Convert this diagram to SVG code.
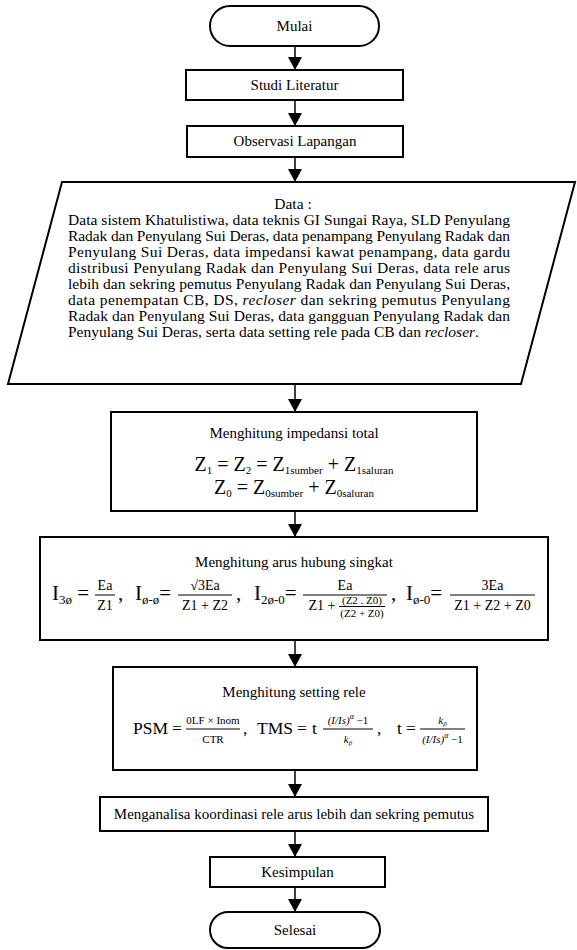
<svg xmlns="http://www.w3.org/2000/svg" width="577" height="950" viewBox="0 0 577 950">
<style>
.box{fill:#fff;stroke:#000;stroke-width:2}
.t{font-family:"Liberation Serif","Times New Roman",serif;font-size:15px;fill:#000}
.d{font-family:"Liberation Serif","Times New Roman",serif;font-size:15.5px;fill:#000}
.c{text-anchor:middle}
.big{font-family:"Liberation Serif","Times New Roman",serif;font-size:20px;fill:#000}
.i2{font-family:"Liberation Serif","Times New Roman",serif;font-size:21px;fill:#000}
.i3{font-family:"Liberation Serif","Times New Roman",serif;font-size:17.5px;fill:#000}
.fr{font-family:"Liberation Serif","Times New Roman",serif;font-size:14px;fill:#000;text-anchor:middle}
.f3{font-family:"Liberation Serif","Times New Roman",serif;font-size:11px;fill:#000;text-anchor:middle}
.sm{font-family:"Liberation Serif","Times New Roman",serif;font-size:11px;fill:#000;text-anchor:middle}
.bar{stroke:#000;stroke-width:1}
.con{stroke:#000;stroke-width:1.5;fill:none}
</style>
<defs>
<marker id="ah" markerWidth="13" markerHeight="14" refX="13" refY="7" orient="auto" markerUnits="userSpaceOnUse"><path d="M0,0 L13,7 L0,14 z" fill="#000"/></marker>
</defs>
<g id="connectors">
<line class="con" x1="295" y1="46" x2="295" y2="70" marker-end="url(#ah)"/>
<line class="con" x1="295" y1="100" x2="295" y2="126" marker-end="url(#ah)"/>
<line class="con" x1="295" y1="157" x2="295" y2="182" marker-end="url(#ah)"/>
<line class="con" x1="295" y1="384" x2="295" y2="412" marker-end="url(#ah)"/>
<line class="con" x1="295" y1="511" x2="295" y2="537" marker-end="url(#ah)"/>
<line class="con" x1="295" y1="640" x2="295" y2="667" marker-end="url(#ah)"/>
<line class="con" x1="295" y1="770" x2="295" y2="797" marker-end="url(#ah)"/>
<line class="con" x1="295" y1="831" x2="295" y2="857" marker-end="url(#ah)"/>
<line class="con" x1="295" y1="887" x2="295" y2="912" marker-end="url(#ah)"/>
</g>
<g id="mulai">
<rect class="box" x="210" y="6" width="169" height="40" rx="20"/>
<text class="t c" x="294.5" y="31">Mulai</text>
</g>
<g id="studi">
<rect class="box" x="186" y="70" width="217" height="30"/>
<text class="t c" x="294.5" y="90">Studi Literatur</text>
</g>
<g id="observasi">
<rect class="box" x="187" y="126" width="216" height="31"/>
<text class="t c" x="295" y="146">Observasi Lapangan</text>
</g>
<g id="data">
<polygon class="box" points="62,182 575,182 521,384 8,384"/>
<text class="d c" x="293" y="209">Data :</text>
<text class="d" x="68" y="225" textLength="442" lengthAdjust="spacing">Data sistem Khatulistiwa, data teknis GI Sungai Raya, SLD Penyulang</text>
<text class="d" x="68" y="241" textLength="442" lengthAdjust="spacing">Radak dan Penyulang Sui Deras, data penampang Penyulang Radak dan</text>
<text class="d" x="68" y="257" textLength="442" lengthAdjust="spacing">Penyulang Sui Deras, data impedansi kawat penampang, data gardu</text>
<text class="d" x="68" y="273" textLength="442" lengthAdjust="spacing">distribusi Penyulang Radak dan Penyulang Sui Deras, data rele arus</text>
<text class="d" x="68" y="289" textLength="442" lengthAdjust="spacing">lebih dan sekring pemutus Penyulang Radak dan Penyulang Sui Deras,</text>
<text class="d" x="68" y="305" textLength="442" lengthAdjust="spacing">data penempatan CB, DS, <tspan font-style="italic">recloser</tspan> dan sekring pemutus Penyulang</text>
<text class="d" x="68" y="321" textLength="442" lengthAdjust="spacing">Radak dan Penyulang Sui Deras, data gangguan Penyulang Radak dan</text>
<text class="d" x="68" y="337">Penyulang Sui Deras, serta data setting rele pada CB dan <tspan font-style="italic">recloser</tspan>.</text>
</g>
<g id="impedansi">
<rect class="box" x="111" y="412" width="366" height="99"/>
<text class="t c" x="294" y="438">Menghitung impedansi total</text>
<text class="big c" x="294" y="471">Z<tspan font-size="11" dy="3">1</tspan><tspan dy="-3"> = Z</tspan><tspan font-size="11" dy="3">2</tspan><tspan dy="-3"> = Z</tspan><tspan font-size="11" dy="3">1sumber</tspan><tspan dy="-3"> + Z</tspan><tspan font-size="11" dy="3">1saluran</tspan></text>
<text class="big c" x="294" y="494">Z<tspan font-size="11" dy="3">0</tspan><tspan dy="-3"> = Z</tspan><tspan font-size="11" dy="3">0sumber</tspan><tspan dy="-3"> + Z</tspan><tspan font-size="11" dy="3">0saluran</tspan></text>
</g>
<g id="arus">
<rect class="box" x="40" y="537" width="508" height="103"/>
<text class="t c" x="294" y="567">Menghitung arus hubung singkat</text>
<text class="i2" x="52" y="600">I<tspan font-size="13" dy="4">3ø</tspan><tspan dy="-4"> =</tspan></text>
<line class="bar" x1="95" y1="595" x2="115" y2="595"/>
<text class="fr" x="105" y="590">Ea</text>
<text class="fr" x="105" y="610">Z1</text>
<text class="i2" x="118" y="600">,</text>
<text class="i2" x="135" y="600">I<tspan font-size="13" dy="4">ø-ø</tspan><tspan dy="-4">=</tspan></text>
<line class="bar" x1="178" y1="595" x2="232" y2="595"/>
<text class="fr" x="205" y="590">√3Ea</text>
<text class="fr" x="205" y="610">Z1 + Z2</text>
<text class="i2" x="236" y="600">,</text>
<text class="i2" x="254" y="600">I<tspan font-size="13" dy="4">2ø-0</tspan><tspan dy="-4">=</tspan></text>
<line class="bar" x1="303" y1="595" x2="387" y2="595"/>
<text class="fr" x="345" y="590">Ea</text>
<text class="fr" x="322" y="610">Z1 +</text>
<line class="bar" x1="339" y1="606.5" x2="385" y2="606.5"/>
<text class="sm" x="362" y="604">(Z2 . Z0)</text>
<text class="sm" x="362" y="617">(Z2 + Z0)</text>
<text class="i2" x="391" y="600">,</text>
<text class="i2" x="406" y="600">I<tspan font-size="13" dy="4">ø-0</tspan><tspan dy="-4">=</tspan></text>
<line class="bar" x1="450" y1="595" x2="535" y2="595"/>
<text class="fr" x="492.5" y="590">3Ea</text>
<text class="fr" x="492.5" y="610">Z1 + Z2 + Z0</text>
</g>
<g id="setting">
<rect class="box" x="113" y="667" width="364" height="103"/>
<text class="t c" x="294" y="697">Menghitung setting rele</text>
<text class="i3" x="133" y="734">PSM</text>
<text class="i3" x="172" y="734">=</text>
<line class="bar" x1="186" y1="729" x2="240" y2="729"/>
<text class="f3" x="213" y="724">0LF × Inom</text>
<text class="f3" x="213" y="743">CTR</text>
<text class="i3" x="243" y="734">,</text>
<text class="i3" x="257" y="734">TMS</text>
<text class="i3" x="297" y="734">=</text>
<text class="i3" x="312" y="734">t</text>
<line class="bar" x1="323" y1="729" x2="373" y2="729"/>
<text class="f3" x="348" y="724"><tspan font-style="italic">(I/Is)</tspan><tspan font-size="8" font-style="italic" dy="-5">α</tspan><tspan dy="5"> −1</tspan></text>
<text class="f3" x="348" y="743" font-style="italic">k<tspan font-size="7" dy="2">β</tspan></text>
<text class="i3" x="377" y="734">,</text>
<text class="i3" x="397" y="734">t</text>
<text class="i3" x="406" y="734">=</text>
<line class="bar" x1="420" y1="729" x2="465" y2="729"/>
<text class="f3" x="442.5" y="724" font-style="italic">k<tspan font-size="7" dy="2">β</tspan></text>
<text class="f3" x="442.5" y="743"><tspan font-style="italic">(I/Is)</tspan><tspan font-size="8" font-style="italic" dy="-5">α</tspan><tspan dy="5"> −1</tspan></text>
</g>
<g id="analisa">
<rect class="box" x="100" y="797" width="388" height="34"/>
<text class="t c" x="294" y="819" font-size="16">Menganalisa koordinasi rele arus lebih dan sekring pemutus</text>
</g>
<g id="kesimpulan">
<rect class="box" x="210" y="857" width="175" height="30"/>
<text class="t c" x="297.5" y="877">Kesimpulan</text>
</g>
<g id="selesai">
<rect class="box" x="210" y="912" width="170" height="36" rx="18"/>
<text class="t c" x="295" y="935">Selesai</text>
</g>
</svg>
